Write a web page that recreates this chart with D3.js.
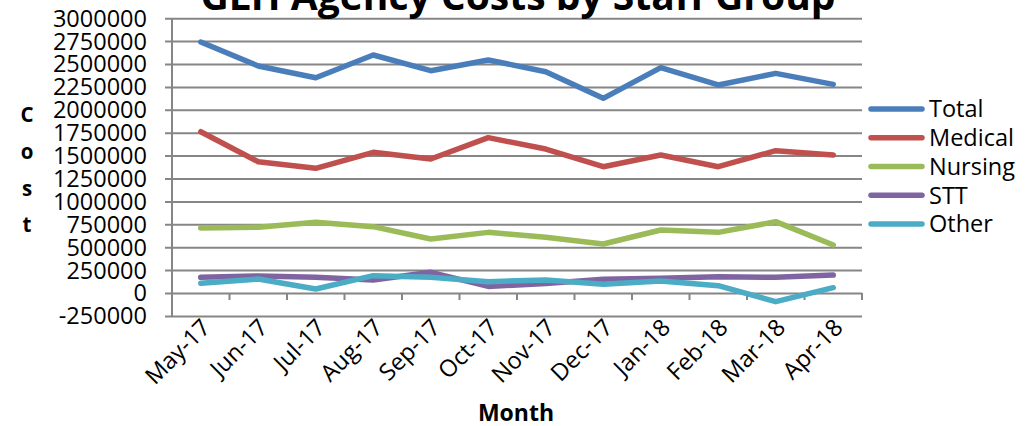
<!DOCTYPE html>
<html>
<head>
<meta charset="utf-8">
<script src="https://cdn.jsdelivr.net/npm/d3@7"></script>
<style>
  html, body { margin: 0; padding: 0; background: #ffffff; }
  svg { display: block; }
  text { font-family: "Open Sans", "Noto Sans", sans-serif; fill: #000; }
</style>
</head>
<body>
<svg id="chart" width="1031" height="426"></svg>
<script>
// Monthly agency costs per staff group
const months = ["May-17", "Jun-17", "Jul-17", "Aug-17", "Sep-17", "Oct-17",
                "Nov-17", "Dec-17", "Jan-18", "Feb-18", "Mar-18", "Apr-18"];

const total   = [2740000, 2478000, 2350000, 2598000, 2427000, 2544000, 2416000, 2125000, 2460000, 2271000, 2398000, 2278000];
const medical = [1761000, 1433000, 1361000, 1536000, 1463000, 1696000, 1572000, 1379000, 1507000, 1379000, 1554000, 1507000];
const nursing = [710000, 717000, 772000, 724000, 590000, 662000, 608000, 535000, 688000, 662000, 779000, 524000];
const stt     = [171000, 186000, 171000, 142000, 226000, 72000, 104000, 149000, 160000, 178000, 171000, 196000];
const other   = [106000, 153000, 44000, 189000, 171000, 124000, 142000, 95000, 131000, 80000, -95000, 58000];

const seriesNames  = ["Total", "Medical", "Nursing", "STT", "Other"];
const seriesValues = [total, medical, nursing, stt, other];
const seriesColors = ["#4a7ebb", "#c0504d", "#9bbb59", "#8064a2", "#4bacc6"];

const yTicks = [-250000, 0, 250000, 500000, 750000, 1000000, 1250000, 1500000,
                1750000, 2000000, 2250000, 2500000, 2750000, 3000000];

const titleText = "GLH Agency Costs by Staff Group";
const xTitle = "Month";
const yTitle = "Cost";

// Layout
const plot = { left: 172, right: 862, top: 18.2, bottom: 315.9 };
const gridColor = "#868686";

const svg = d3.select("#chart");

const x = d3.scaleBand().domain(months).range([plot.left, plot.right]).padding(0);
const y = d3.scaleLinear().domain([-250000, 3000000]).range([plot.bottom, plot.top]);

// Horizontal gridlines, extended slightly left of the axis as tick marks
const gy = svg.append("g")
  .attr("transform", `translate(${plot.right},0)`)
  .call(d3.axisLeft(y).tickValues(yTicks).tickSize(plot.right - plot.left + 7).tickSizeOuter(0).tickFormat(""));
gy.select(".domain").remove();
gy.selectAll(".tick line").attr("stroke", gridColor).attr("stroke-width", 2);

// Y tick labels
svg.append("g").selectAll("text")
  .data(yTicks)
  .join("text")
  .attr("x", 147)
  .attr("y", d => y(d))
  .attr("dy", "0.36em")
  .attr("text-anchor", "end")
  .style("font-size", "23.5px")
  .text(d => d);

// Vertical axis line
svg.append("line")
  .attr("x1", plot.left).attr("x2", plot.left)
  .attr("y1", plot.top).attr("y2", plot.bottom)
  .attr("stroke", gridColor).attr("stroke-width", 2);

// Tick marks at category boundaries below the zero line
const boundaries = months.slice(1).map(m => x(m)).concat([plot.right]);
svg.append("g").selectAll("line")
  .data(boundaries)
  .join("line")
  .attr("x1", d => d).attr("x2", d => d)
  .attr("y1", y(0)).attr("y2", y(0) + 7)
  .attr("stroke", gridColor).attr("stroke-width", 2);

// Category labels, rotated
svg.append("g").selectAll("text")
  .data(months)
  .join("text")
  .attr("text-anchor", "end")
  .attr("transform", d => `translate(${x(d) + x.bandwidth() / 2 + 11},${329}) rotate(-45)`)
  .style("font-size", "23.5px")
  .text(d => d);

// Series lines
const line = d3.line()
  .x((d, i) => x(months[i]) + x.bandwidth() / 2)
  .y(d => y(d));

svg.append("g").selectAll("path")
  .data(seriesValues)
  .join("path")
  .attr("d", d => line(d))
  .attr("fill", "none")
  .attr("stroke", (d, i) => seriesColors[i])
  .attr("stroke-width", 5.5)
  .attr("stroke-linejoin", "round")
  .attr("stroke-linecap", "round");

// Legend
const legend = svg.append("g");
const legendY = d3.scalePoint().domain(seriesNames).range([109, 224]);
seriesNames.forEach((name, i) => {
  legend.append("line")
    .attr("x1", 871).attr("x2", 922)
    .attr("y1", legendY(name)).attr("y2", legendY(name))
    .attr("stroke", seriesColors[i])
    .attr("stroke-width", 5.5)
    .attr("stroke-linecap", "round");
  legend.append("text")
    .attr("x", 929)
    .attr("y", legendY(name))
    .attr("dy", "0.36em")
    .style("font-size", "23.5px")
    .text(name);
});

// Axis titles
svg.append("text")
  .attr("x", 516).attr("y", 421)
  .attr("text-anchor", "middle")
  .style("font-size", "23px")
  .style("font-weight", "bold")
  .text(xTitle);

svg.append("g").selectAll("text")
  .data(yTitle.split(""))
  .join("text")
  .attr("x", 27)
  .attr("y", (d, i) => 122 + i * 36.8)
  .attr("text-anchor", "middle")
  .style("font-size", "20.5px")
  .style("font-weight", "bold")
  .text(d => d);

// Chart title, partly above the top edge
const title = svg.append("text")
  .attr("x", 518).attr("y", 10)
  .attr("text-anchor", "middle")
  .style("font-size", "40px")
  .style("font-weight", "bold")
  .text(titleText);
const tw = title.node().getComputedTextLength();
title.style("font-size", (40 * 635 / tw).toFixed(2) + "px");
</script>
</body>
</html>
